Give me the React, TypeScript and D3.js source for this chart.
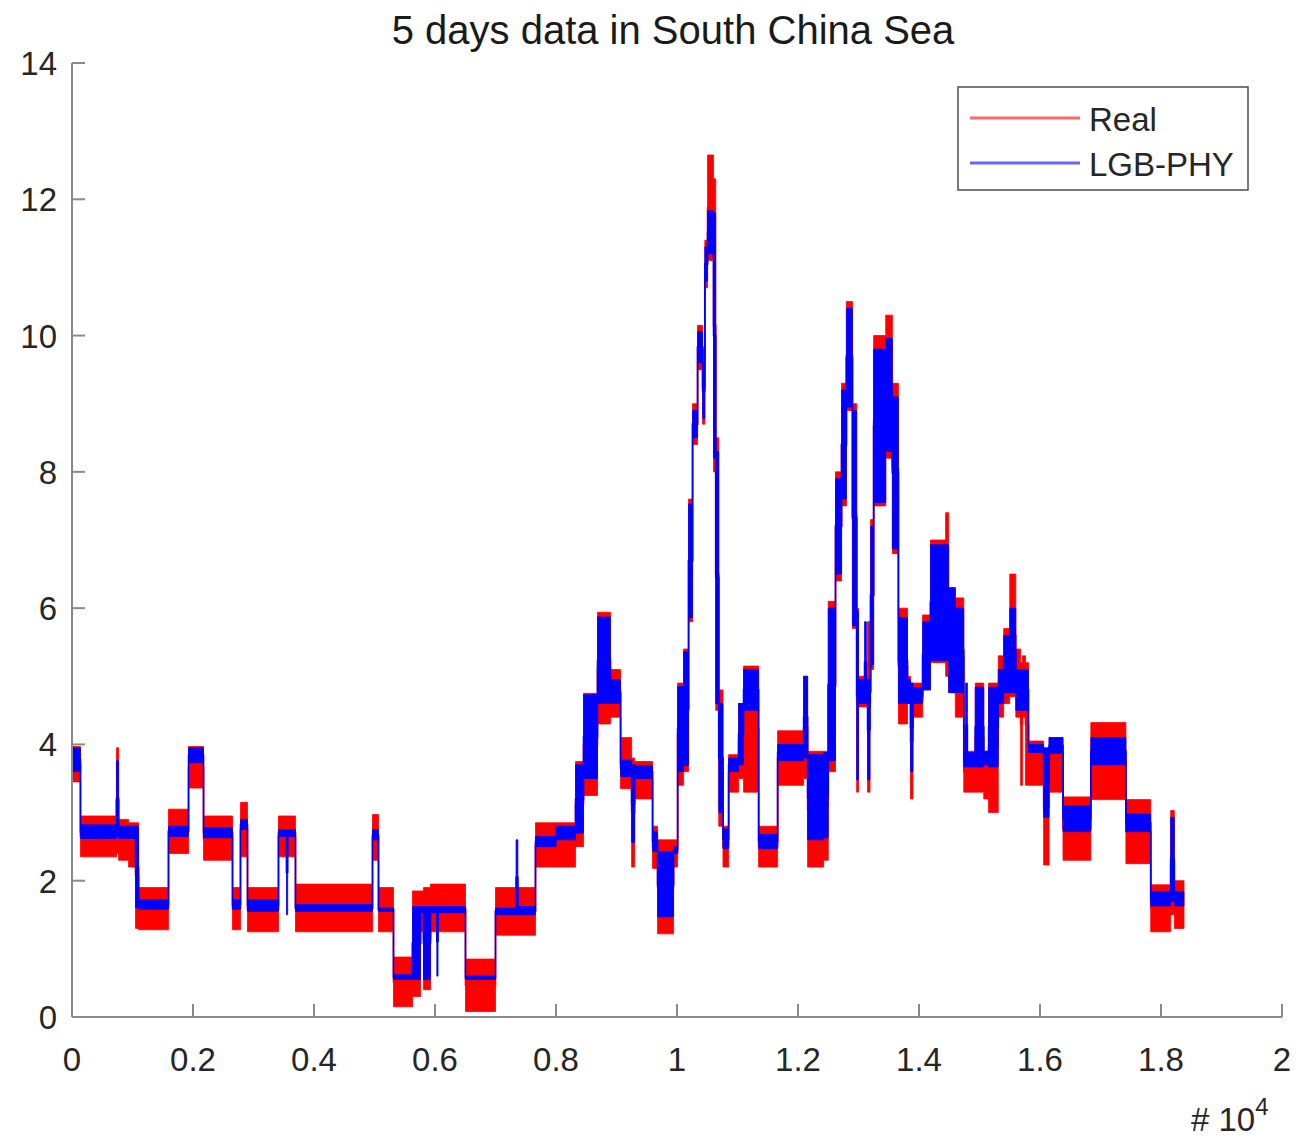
import React from "react";
import * as d3 from "d3";

// Each segment: [start sample, low value, high value] of the noisy band
const realSegments: [number, number, number][] = [
  [0, 3.45, 3.97], [140, 2.35, 2.95], [735, 2.4, 3.95], [770, 2.3, 2.9], [935, 2.2, 2.85],
  [1050, 1.3, 2.85], [1100, 1.28, 1.9], [1595, 2.4, 3.05], [1926, 3.36, 3.97], [2174, 2.3, 2.95],
  [2653, 1.28, 1.9], [2785, 2.35, 3.15], [2901, 1.25, 1.9], [3413, 2.35, 2.95], [3694, 1.25, 1.95],
  [4967, 2.3, 2.97], [5066, 1.25, 1.9], [5314, 0.15, 0.88], [5628, 0.3, 1.85], [5760, 1.25, 1.85],
  [5810, 0.4, 1.9], [5926, 1.25, 1.95], [6504, 0.08, 0.85], [7000, 1.2, 1.9], [7661, 2.2, 2.85],
  [8323, 2.5, 3.75], [8455, 3.25, 4.75], [8686, 4.3, 5.94], [8900, 4.4, 5.1], [9067, 3.35, 4.1],
  [9250, 2.2, 3.8], [9300, 3.2, 3.75], [9596, 2.18, 2.8], [9679, 1.22, 2.6], [9943, 2.2, 2.6],
  [10010, 3.4, 4.9], [10109, 3.6, 5.4], [10191, 5.8, 7.6], [10257, 8.4, 9.0], [10340, 9.5, 10.15],
  [10423, 8.7, 9.8], [10460, 10.7, 11.4], [10505, 11.1, 12.65], [10604, 8.0, 12.3], [10640, 4.5, 8.5],
  [10690, 2.8, 4.8], [10760, 2.2, 2.8], [10853, 3.3, 3.85], [11018, 3.5, 4.6], [11100, 3.3, 5.15],
  [11349, 2.2, 2.8], [11663, 3.4, 4.2], [12093, 3.5, 5.0], [12159, 2.2, 3.9], [12423, 2.3, 3.9],
  [12500, 3.6, 6.1], [12620, 6.4, 8.0], [12720, 7.5, 9.3], [12800, 8.9, 10.5], [12900, 5.7, 9.0],
  [12970, 3.3, 6.0], [13000, 4.55, 5.0], [13150, 3.3, 5.8], [13190, 4.55, 5.0], [13200, 5.1, 7.3],
  [13250, 7.5, 10.0], [13450, 8.2, 10.3], [13560, 6.8, 9.3], [13660, 4.3, 6.0], [13810, 4.6, 5.0],
  [13860, 3.2, 4.9], [13900, 4.4, 4.9], [14060, 4.8, 5.9], [14190, 5.2, 7.0], [14440, 5.0, 7.4],
  [14490, 4.76, 6.3], [14600, 4.4, 6.15], [14740, 3.3, 3.9], [14930, 3.3, 4.9], [15070, 3.2, 3.9],
  [15150, 3.0, 4.9], [15310, 4.4, 5.3], [15400, 4.6, 5.7], [15500, 4.7, 6.5], [15600, 4.4, 5.4],
  [15680, 3.4, 5.2], [15710, 4.4, 5.3], [15760, 3.4, 5.2], [15810, 3.4, 4.05], [16060, 2.23, 3.9],
  [16150, 3.3, 4.1], [16380, 2.3, 3.23], [16840, 3.19, 4.32], [17420, 2.25, 3.19], [17830, 1.25, 1.94],
  [18160, 1.5, 3.03], [18220, 1.3, 2.0],
];

const predSegments: [number, number, number][] = [
  [0, 3.6, 3.95], [140, 2.62, 2.82], [735, 2.65, 3.76], [770, 2.62, 2.8], [1050, 1.6, 2.8],
  [1100, 1.58, 1.72], [1595, 2.65, 2.8], [1926, 3.73, 3.95], [2174, 2.63, 2.78], [2653, 1.58, 1.72],
  [2785, 2.75, 2.9], [2901, 1.55, 1.72], [3413, 2.65, 2.75], [3545, 1.5, 2.75], [3565, 2.65, 2.75],
  [3694, 1.55, 1.65], [4967, 2.6, 2.75], [5066, 1.55, 1.6], [5314, 0.55, 0.62], [5628, 0.55, 1.62],
  [5760, 1.53, 1.62], [5810, 0.55, 1.62], [5926, 1.53, 1.62], [6030, 0.6, 1.62], [6050, 1.53, 1.62],
  [6504, 0.55, 0.6], [7000, 1.5, 1.6], [7340, 1.5, 2.6], [7370, 1.5, 1.62], [7661, 2.5, 2.65],
  [8000, 2.6, 2.8], [8323, 2.7, 3.7], [8455, 3.5, 4.73], [8686, 4.6, 5.87], [8900, 4.6, 4.95],
  [9067, 3.53, 3.77], [9250, 2.56, 3.7], [9300, 3.5, 3.69], [9596, 2.43, 2.72], [9679, 1.47, 2.43],
  [9943, 2.4, 2.5], [10010, 3.6, 4.85], [10109, 3.69, 5.36], [10191, 5.86, 7.53], [10257, 8.5, 8.9],
  [10340, 9.6, 10.06], [10423, 8.78, 9.6], [10460, 10.8, 11.3], [10505, 11.2, 11.83], [10604, 8.2, 11.8],
  [10640, 4.6, 8.3], [10690, 3.0, 4.6], [10760, 2.47, 2.76], [10853, 3.6, 3.8], [11018, 3.7, 4.6],
  [11100, 4.5, 5.1], [11349, 2.47, 2.68], [11663, 3.76, 4.0], [12093, 3.8, 5.0], [12159, 2.6, 3.85],
  [12423, 2.63, 3.88], [12500, 3.76, 6.0], [12620, 6.5, 7.9], [12720, 7.6, 9.2], [12800, 8.95, 10.4],
  [12900, 5.74, 8.9], [12970, 3.48, 5.96], [13000, 4.6, 4.95], [13100, 4.6, 5.8], [13130, 4.6, 4.95],
  [13150, 3.48, 4.95], [13190, 4.6, 4.95], [13200, 5.17, 7.2], [13250, 7.55, 9.8], [13450, 8.3, 9.96],
  [13560, 6.87, 9.1], [13660, 4.6, 5.86], [13810, 4.6, 4.95], [13860, 3.6, 4.9], [13900, 4.6, 4.83],
  [14060, 4.8, 5.8], [14190, 5.23, 6.93], [14490, 4.76, 6.3], [14600, 4.76, 6.0], [14740, 3.67, 3.88],
  [14770, 3.67, 4.9], [14800, 3.67, 3.88], [14930, 3.67, 4.84], [15070, 3.7, 3.9], [15150, 3.67, 4.84],
  [15310, 4.6, 5.1], [15400, 4.76, 5.6], [15500, 4.76, 6.0], [15600, 4.5, 5.1], [15810, 3.88, 4.0],
  [16060, 2.93, 3.95], [16150, 3.87, 4.1], [16380, 2.72, 3.1], [16840, 3.7, 4.1], [17420, 2.72, 2.98],
  [17830, 1.63, 1.84], [18160, 1.7, 2.93], [18220, 1.63, 1.84],
];

const seriesEnd = 18380;
const xTicks = [0, 2000, 4000, 6000, 8000, 10000, 12000, 14000, 16000, 18000, 20000];
const yTicks = [0, 2, 4, 6, 8, 10, 12, 14];
const seriesNames = ["Real", "LGB-PHY"];
const seriesColors = ["#ff0000", "#0000ff"];
const titleText = "5 days data in South China Sea";

const W = 1311;
const H = 1146;
const margin = { left: 72, right: 29, top: 63, bottom: 129 };
const FONT = "'Liberation Sans', Arial, sans-serif";

type Pt = { x: number; lo: number; hi: number };

function toPoints(segs: [number, number, number][]): Pt[] {
  const pts = segs.map((s) => ({ x: s[0], lo: s[1], hi: s[2] }));
  const last = segs[segs.length - 1];
  pts.push({ x: seriesEnd, lo: last[1], hi: last[2] });
  return pts;
}

export default function App() {
  const x = d3.scaleLinear().domain([0, 20000]).range([margin.left, W - margin.right]);
  const y = d3.scaleLinear().domain([0, 14]).range([H - margin.bottom, margin.top]);

  const area = d3
    .area<Pt>()
    .x((d) => x(d.x))
    .y0((d) => y(d.lo))
    .y1((d) => y(d.hi))
    .curve(d3.curveStepAfter);
  const mid = d3
    .line<Pt>()
    .x((d) => x(d.x))
    .y((d) => y((d.lo + d.hi) / 2))
    .curve(d3.curveStepAfter);

  const series = [toPoints(realSegments), toPoints(predSegments)];
  const axisColor = "#8a8a8a";
  const textColor = "#262626";
  const x0 = x(0);
  const yBase = y(0);
  const tickLen = 13;

  return (
    <svg
      width={W}
      height={H}
      style={{ position: "absolute", left: 0, top: 0, background: "#fff" }}
      fontFamily={FONT}
    >
      <rect width={W} height={H} fill="#fff" />
      <text x={673} y={44} textAnchor="middle" fontSize={40} fill="#1a1a1a">
        {titleText}
      </text>

      {series.map((pts, i) => (
        <g key={i}>
          <path d={area(pts) || ""} fill={seriesColors[i]} stroke={seriesColors[i]} strokeWidth={0.8} />
          <path d={mid(pts) || ""} fill="none" stroke={seriesColors[i]} strokeWidth={1.6} />
        </g>
      ))}

      {/* axes */}
      <line x1={x0} x2={x(20000)} y1={yBase} y2={yBase} stroke={axisColor} strokeWidth={2} />
      <line x1={x0} x2={x0} y1={yBase} y2={y(14)} stroke={axisColor} strokeWidth={2} />
      {xTicks.map((t) => (
        <g key={"x" + t}>
          <line x1={x(t)} x2={x(t)} y1={yBase} y2={yBase - tickLen} stroke={axisColor} strokeWidth={2} />
          <text x={x(t)} y={1071} textAnchor="middle" fontSize={33} fill={textColor}>
            {d3.format("~g")(t / 10000)}
          </text>
        </g>
      ))}
      {yTicks.map((t) => (
        <g key={"y" + t}>
          <line x1={x0} x2={x0 + tickLen} y1={y(t)} y2={y(t)} stroke={axisColor} strokeWidth={2} />
          <text x={57} y={y(t) + 12} textAnchor="end" fontSize={33} fill={textColor}>
            {t}
          </text>
        </g>
      ))}
      <text x={1191} y={1131} fontSize={33} fill={textColor}>
        # 10
        <tspan dy={-16} fontSize={24}>4</tspan>
      </text>

      {/* legend */}
      <rect x={958} y={87} width={290} height={103} fill="#fff" stroke="#4d4d4d" strokeWidth={1.5} />
      {seriesNames.map((n, i) => (
        <g key={n}>
          <line
            x1={970}
            x2={1080}
            y1={118 + i * 45}
            y2={118 + i * 45}
            stroke={seriesColors[i]}
            strokeOpacity={0.6}
            strokeWidth={3}
          />
          <text x={1089} y={131 + i * 45} fontSize={33} fill={textColor}>
            {n}
          </text>
        </g>
      ))}
    </svg>
  );
}
